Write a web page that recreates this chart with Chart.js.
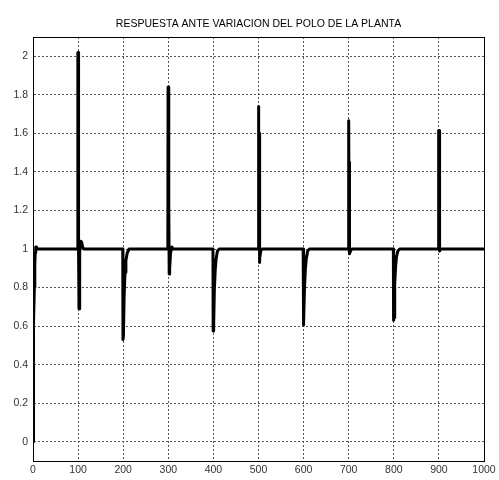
<!DOCTYPE html>
<html>
<head>
<meta charset="utf-8">
<script src="https://cdn.jsdelivr.net/npm/chart.js@4/dist/chart.umd.min.js"></script>
<style>
  html, body { margin: 0; padding: 0; background: #fff; }
  #wrap { width: 499px; height: 480px; }
</style>
</head>
<body>
<div id="wrap"><canvas id="c" width="499" height="480"></canvas></div>
<script>
// Plant response while the plant pole is changed every 100 s
const chartTitle = 'RESPUESTA ANTE VARIACION DEL POLO DE LA PLANTA';

const timeValues = [
  0, 0.5, 1, 2, 3, 4, 5, 6, 8, 10,
  99, 99.5, 100.5, 101, 102, 103, 104, 106, 108, 110, 113,
  199, 199.5, 200.5, 202, 204, 206, 209, 213,
  299, 299.5, 300.5, 301, 301.5, 302, 303, 305, 308, 311,
  399, 399.5, 400.5, 402, 404, 406, 409, 413,
  499, 499.5, 500.5, 501, 501.5, 502, 503, 505, 508,
  599, 599.5, 600.5, 602, 604, 606, 609, 613,
  699, 699.5, 700.5, 701, 701.5, 702, 704, 707,
  799, 799.5, 800.5, 802, 804, 806, 809, 813,
  899, 899.5, 900.5, 901, 901.5, 902, 904,
  1000
];

const responseValues = [
  0, 0.12, 0.38, 0.62, 0.8, 0.92, 0.98, 1.01, 1.01, 1.0,
  1.0, 2.02, 2.02, 1.0, 0.69, 0.72, 0.98, 1.04, 1.035, 1.01, 1.0,
  1.0, 0.53, 0.55, 0.75, 0.88, 0.94, 0.98, 1.0,
  1.0, 1.84, 1.84, 1.0, 1.25, 0.87, 0.9, 0.98, 1.01, 1.0,
  1.0, 0.575, 0.59, 0.78, 0.89, 0.95, 0.99, 1.0,
  1.0, 1.74, 1.74, 1.0, 1.6, 0.93, 0.95, 0.99, 1.0,
  1.0, 0.605, 0.62, 0.8, 0.9, 0.95, 0.99, 1.0,
  1.0, 1.665, 1.665, 1.0, 1.45, 0.975, 0.99, 1.0,
  1.0, 0.63, 0.645, 0.82, 0.91, 0.96, 0.99, 1.0,
  1.0, 1.615, 1.615, 1.0, 1.53, 0.99, 1.0,
  1.0
];

const xTickValues = [0, 100, 200, 300, 400, 500, 600, 700, 800, 900, 1000];
const yTickValues = [0, 0.2, 0.4, 0.6, 0.8, 1, 1.2, 1.4, 1.6, 1.8, 2];

const points = timeValues.map((t, i) => ({ x: t, y: responseValues[i] }));

const tickFont = { family: 'Liberation Sans, Arial, sans-serif', size: 10.5 };

// Title above the axes and a full box around the plot area
const framePlugin = {
  id: 'frame',
  afterDraw(chart) {
    const { ctx, chartArea: a } = chart;
    ctx.save();
    ctx.strokeStyle = '#000';
    ctx.lineWidth = 1;
    ctx.setLineDash([]);
    ctx.strokeRect(Math.round(a.left) + 0.5, Math.round(a.top) + 0.5,
                   Math.round(a.right - a.left), Math.round(a.bottom - a.top));
    ctx.fillStyle = '#000';
    ctx.font = '10.5px Liberation Sans, Arial, sans-serif';
    ctx.textAlign = 'center';
    ctx.textBaseline = 'middle';
    ctx.fillText(chartTitle, (a.left + a.right) / 2, 24.5);
    ctx.restore();
  }
};

new Chart(document.getElementById('c'), {
  type: 'scatter',
  data: {
    datasets: [{
      data: points,
      showLine: true,
      borderColor: '#000',
      borderWidth: 3,
      borderJoinStyle: 'round',
      borderCapStyle: 'round',
      pointRadius: 0,
      tension: 0,
      fill: false
    }]
  },
  options: {
    responsive: false,
    animation: false,
    events: [],
    layout: { padding: { top: 37, right: 15, bottom: 0, left: 0 } },
    plugins: { legend: { display: false }, tooltip: { enabled: false }, title: { display: false } },
    scales: {
      x: {
        type: 'linear',
        min: 0,
        max: 1000,
        afterBuildTicks: (axis) => { axis.ticks = xTickValues.map(v => ({ value: v })); },
        afterFit: (axis) => { axis.height = 19; },
        ticks: { color: '#333', font: tickFont, padding: 3, maxRotation: 0, autoSkip: false,
                 callback: (v) => String(v) },
        grid: { color: '#555', lineWidth: 1, drawTicks: false },
        border: { display: true, color: '#000', dash: [2, 2] }
      },
      y: {
        type: 'linear',
        min: -0.1,
        max: 2.1,
        afterBuildTicks: (axis) => { axis.ticks = yTickValues.map(v => ({ value: v })); },
        afterFit: (axis) => { axis.width = 33; },
        ticks: { color: '#333', font: tickFont, padding: 5, autoSkip: false,
                 callback: (v) => String(Math.round(v * 10) / 10) },
        grid: { color: '#555', lineWidth: 1, drawTicks: false },
        border: { display: true, color: '#000', dash: [2, 2] }
      }
    }
  },
  plugins: [framePlugin]
});
</script>
</body>
</html>
